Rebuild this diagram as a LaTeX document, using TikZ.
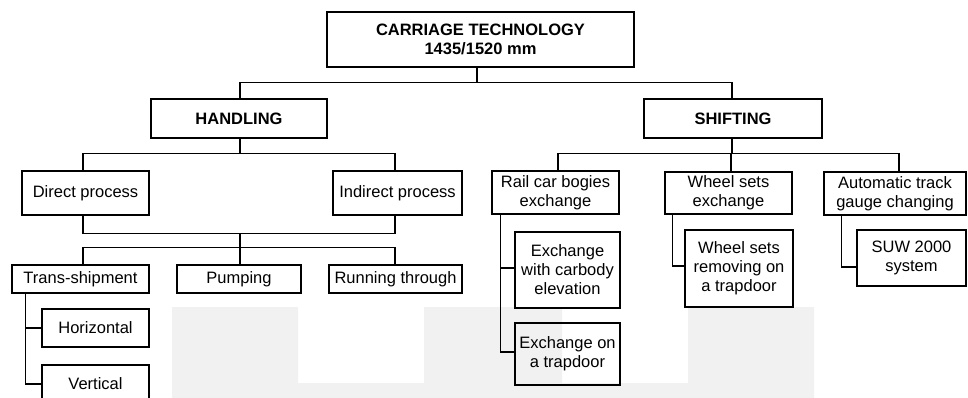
\documentclass[tikz,border=0pt]{standalone}
\usepackage{fontspec}
\setmainfont{Liberation Sans}
\definecolor{bg}{RGB}{241,241,241}
\begin{document}
\begin{tikzpicture}[x=1pt,y=-1pt,
  box/.style={draw, line width=1.1pt, inner sep=0pt, align=center, font=\fontsize{16.5}{19}\selectfont},
  bbox/.style={box, font=\fontsize{16.5}{19}\selectfont\bfseries},
  conn/.style={line width=1.1pt}]
\clip (0,0) rectangle (968,398);
\fill[bg] (172,307) -- (298,307) -- (298,383) -- (424,383) -- (424,307) -- (562,307) -- (562,383) -- (688,383) -- (688,307) -- (814,307) -- (814,398) -- (172,398) -- cycle;
% level 0-1
\node[bbox, minimum width=307, minimum height=55] (top) at (480.5,39.5) {CARRIAGE TECHNOLOGY\\1435/1520 mm};
\node[bbox, minimum width=176, minimum height=39] (handling) at (239,118.5) {HANDLING};
\node[bbox, minimum width=178, minimum height=39] (shifting) at (733,118.5) {SHIFTING};
% handling side
\node[box, minimum width=127, minimum height=44] (direct) at (85.5,193) {Direct process};
\node[box, minimum width=129, minimum height=44] (indirect) at (397.5,193) {Indirect process};
\node[box, minimum width=137, minimum height=28] (trans) at (80.5,279) {Trans-shipment};
\node[box, minimum width=124, minimum height=28] (pumping) at (239,279) {Pumping};
\node[box, minimum width=133, minimum height=28] (running) at (395.5,279) {Running through};
\node[box, minimum width=107, minimum height=38] (horizontal) at (95.5,328) {Horizontal};
\node[box, minimum width=107, minimum height=38] (vertical) at (95.5,384) {Vertical};
% shifting side
\node[box, minimum width=127, minimum height=43] (railcar) at (555.5,192.5) {Rail car bogies\\exchange};
\node[box, minimum width=127, minimum height=42] (wheelsets) at (728.5,193) {Wheel sets\\exchange};
\node[box, minimum width=142, minimum height=43] (automatic) at (895,193.5) {Automatic track\\gauge changing};
\node[box, minimum width=105, minimum height=76] (carbody) at (567.5,270) {Exchange\\with carbody\\elevation};
\node[box, minimum width=105, minimum height=62] (trapdoor) at (567.5,354) {Exchange on\\a trapdoor};
\node[box, minimum width=108, minimum height=77] (wsremove) at (739,268.5) {Wheel sets\\removing on\\a trapdoor};
\node[box, minimum width=109, minimum height=56] (suw) at (911.5,258) {SUW 2000\\system};
% connectors
\draw[conn] ([xshift=-3.5pt]top.south) -- ++(0,15) -| ([xshift=1pt]handling.north);
\draw[conn] ([xshift=-3.5pt]top.south) -- ++(0,15) -| ([xshift=-1pt]shifting.north);
\draw[conn] ([xshift=1pt]handling.south) -- ++(0,15) -| ([xshift=-2.5pt]direct.north);
\draw[conn] ([xshift=1pt]handling.south) -- ++(0,15) -| ([xshift=-2.5pt]indirect.north);
\draw[conn] ([xshift=-2.5pt]direct.south) -- ++(0,18) coordinate (dl) -| ([xshift=-2.5pt]indirect.south);
\draw[conn] ([xshift=1pt]pumping.north) -- ([xshift=1pt]pumping.north |- dl);
\draw[conn] ([xshift=1pt]pumping.north) -- ++(0,-17) -| ([xshift=2.5pt]trans.north);
\draw[conn] ([xshift=1pt]pumping.north) -- ++(0,-17) -| ([xshift=-0.5pt]running.north);
\draw[conn] ([xshift=14pt]trans.south west) |- (horizontal.west);
\draw[conn] ([xshift=14pt]trans.south west) |- (vertical.west);
\draw[conn] ([xshift=-1pt]shifting.south) -- ++(0,15) -| ([xshift=2.5pt]railcar.north);
\draw[conn] ([xshift=-1pt]shifting.south) -- ++(0,15) -| ([xshift=2.5pt]wheelsets.north);
\draw[conn] ([xshift=-1pt]shifting.south) -- ++(0,15) -| ([xshift=4pt]automatic.north);
\draw[conn] ([xshift=9pt]railcar.south west) |- ([yshift=2pt]carbody.west);
\draw[conn] ([xshift=9pt]railcar.south west) |- ([yshift=2pt]trapdoor.west);
\draw[conn] ([xshift=8pt]wheelsets.south west) |- ([yshift=2.5pt]wsremove.west);
\draw[conn] ([xshift=18pt]automatic.south west) |- ([yshift=-9pt]suw.west);
\end{tikzpicture}
\end{document}
